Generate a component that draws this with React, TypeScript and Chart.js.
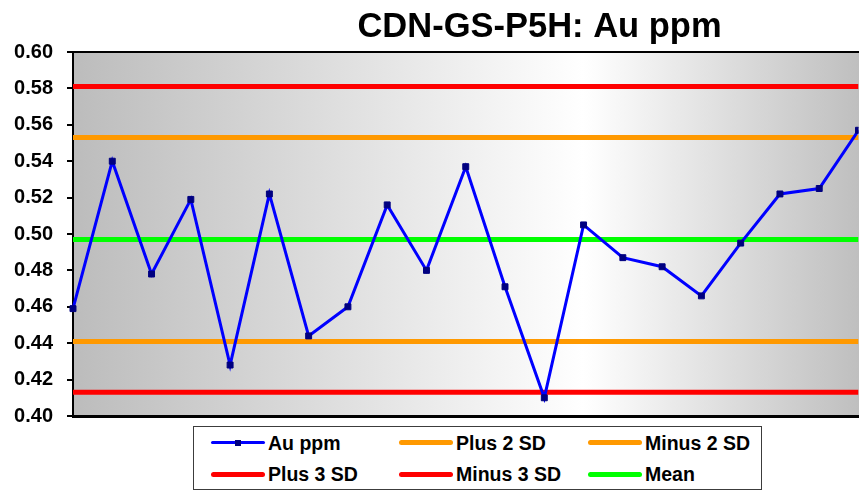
import React, { useEffect, useRef } from 'react';
import { Chart, registerables } from 'chart.js';

Chart.register(...registerables);

// ---------- data ----------
const TITLE = 'CDN-GS-P5H: Au ppm';
const categories = ['1', '2', '3', '4', '5', '6', '7', '8', '9', '10', '11', '12', '13', '14', '15', '16', '17', '18', '19', '20', '21'];
const auPpm = [0.459, 0.540, 0.478, 0.519, 0.428, 0.522, 0.444, 0.460, 0.516, 0.480, 0.537, 0.471, 0.410, 0.505, 0.487, 0.482, 0.466, 0.495, 0.522, 0.525, 0.557];
const MEAN = 0.497;
const PLUS_2SD = 0.553;
const MINUS_2SD = 0.441;
const PLUS_3SD = 0.581;
const MINUS_3SD = 0.413;
const Y_MIN = 0.4;
const Y_MAX = 0.6;
const Y_STEP = 0.02;
const seriesNames = ['Au ppm', 'Plus 2 SD', 'Minus 2 SD', 'Plus 3 SD', 'Minus 3 SD', 'Mean'];

// ---------- styles ----------
const FONT = "'Liberation Sans', Arial, Helvetica, sans-serif";
const W = 859;
const H = 492;
const BLUE = '#0000ff';
const NAVY = '#000080';
const ORANGE = '#ff9900';
const RED = '#ff0000';
const GREEN = '#00ff00';
const seriesStyles = [
  { color: BLUE, width: 3, marker: true },
  { color: ORANGE, width: 5, marker: false },
  { color: ORANGE, width: 5, marker: false },
  { color: RED, width: 5, marker: false },
  { color: RED, width: 5, marker: false },
  { color: GREEN, width: 5, marker: false },
];

const flat = (v: number) => [
  { x: categories[0], y: v },
  { x: categories[categories.length - 1], y: v },
];

const decorPlugin = {
  id: 'decor',
  beforeDraw(chart: any) {
    const { ctx, chartArea: a } = chart;
    const g = ctx.createLinearGradient(a.left, 0, a.right, 0);
    g.addColorStop(0, '#bcbcbc');
    g.addColorStop(0.65, '#ffffff');
    g.addColorStop(1, '#bfbfbf');
    ctx.save();
    ctx.fillStyle = g;
    ctx.fillRect(a.left, a.top, a.right - a.left + 2, a.bottom - a.top);
    ctx.restore();
  },
  afterDraw(chart: any) {
    const { ctx, chartArea: a } = chart;
    ctx.save();
    ctx.strokeStyle = '#000000';
    ctx.lineWidth = 2;
    ctx.beginPath();
    ctx.moveTo(a.left - 1, a.top);
    ctx.lineTo(a.right + 2, a.top);
    ctx.stroke();
    ctx.lineWidth = 3;
    ctx.beginPath();
    ctx.moveTo(a.left - 1, a.bottom + 0.5);
    ctx.lineTo(a.right + 2, a.bottom + 0.5);
    ctx.stroke();
    ctx.fillStyle = '#000000';
    ctx.font = `bold 34.5px ${FONT}`;
    ctx.textAlign = 'center';
    ctx.textBaseline = 'alphabetic';
    ctx.fillText(TITLE, 539.5, 37);
    ctx.restore();
  },
};

export default function App() {
  const ref = useRef<HTMLCanvasElement | null>(null);

  useEffect(() => {
    if (!ref.current) return;
    const values = [auPpm, flat(PLUS_2SD), flat(MINUS_2SD), flat(PLUS_3SD), flat(MINUS_3SD), flat(MEAN)];
    const chart = new Chart(ref.current, {
      type: 'line',
      data: {
        labels: categories,
        datasets: seriesNames.map((name, i) => ({
          label: name,
          data: values[i] as any,
          borderColor: seriesStyles[i].color,
          borderWidth: seriesStyles[i].width,
          backgroundColor: seriesStyles[i].marker ? NAVY : seriesStyles[i].color,
          pointBackgroundColor: NAVY,
          pointBorderColor: NAVY,
          pointBorderWidth: 1,
          pointStyle: 'rect',
          pointRadius: seriesStyles[i].marker ? 4.2 : 0,
          pointHoverRadius: seriesStyles[i].marker ? 4.2 : 0,
          tension: 0,
          fill: false,
          clip: { left: 5, right: 0, top: 5, bottom: 5 },
        })),
      },
      options: {
        responsive: false,
        animation: false,
        devicePixelRatio: 1,
        events: [],
        layout: { autoPadding: false, padding: { top: 52, bottom: 76, left: 0, right: 0.5 } },
        plugins: {
          legend: { display: false },
          title: { display: false },
          tooltip: { enabled: false },
        },
        scales: {
          x: {
            type: 'category',
            display: false,
            offset: false,
          },
          y: {
            min: Y_MIN,
            max: Y_MAX,
            afterFit: (s: any) => {
              s.width = 73;
            },
            ticks: {
              stepSize: Y_STEP,
              color: '#000000',
              padding: 14,
              font: { family: FONT, size: 20, weight: 'bold' },
              callback: (v: any) => Number(v).toFixed(2),
            },
            grid: {
              drawOnChartArea: false,
              drawTicks: true,
              tickLength: 6,
              color: '#000000',
              lineWidth: 2,
            },
            border: { display: true, color: '#000000', width: 2 },
          },
        },
      },
      plugins: [decorPlugin],
    });
    return () => chart.destroy();
  }, []);

  const colX = [211, 399, 588];
  const rowY = [442.5, 474];

  return (
    <div style={{ position: 'fixed', left: 0, top: 0, width: W, height: H, background: '#ffffff', overflow: 'hidden' }}>
      <canvas ref={ref} width={W} height={H} style={{ position: 'absolute', left: 0, top: 0, width: W, height: H }} />
      <div
        style={{
          position: 'absolute',
          left: 193,
          top: 426,
          width: 569,
          height: 64,
          boxSizing: 'border-box',
          border: '1.5px solid #3c3c3c',
          background: '#ffffff',
        }}
      />
      {seriesNames.map((name, i) => {
        const st = seriesStyles[i];
        const x = colX[i % 3];
        const y = rowY[Math.floor(i / 3)];
        return (
          <div key={name}>
            <div
              style={{
                position: 'absolute',
                left: x,
                top: y - st.width / 2,
                width: 54,
                height: st.width,
                background: st.color,
                borderRadius: st.width / 2,
              }}
            />
            {st.marker && (
              <div
                style={{
                  position: 'absolute',
                  left: x + 24,
                  top: y - 3,
                  width: 6,
                  height: 6,
                  background: NAVY,
                }}
              />
            )}
            <div
              style={{
                position: 'absolute',
                left: x + 57,
                top: y - 12,
                height: 24,
                lineHeight: '24px',
                fontFamily: FONT,
                fontWeight: 'bold',
                fontSize: 19.5,
                color: '#000000',
                whiteSpace: 'nowrap',
              }}
            >
              {name}
            </div>
          </div>
        );
      })}
    </div>
  );
}
